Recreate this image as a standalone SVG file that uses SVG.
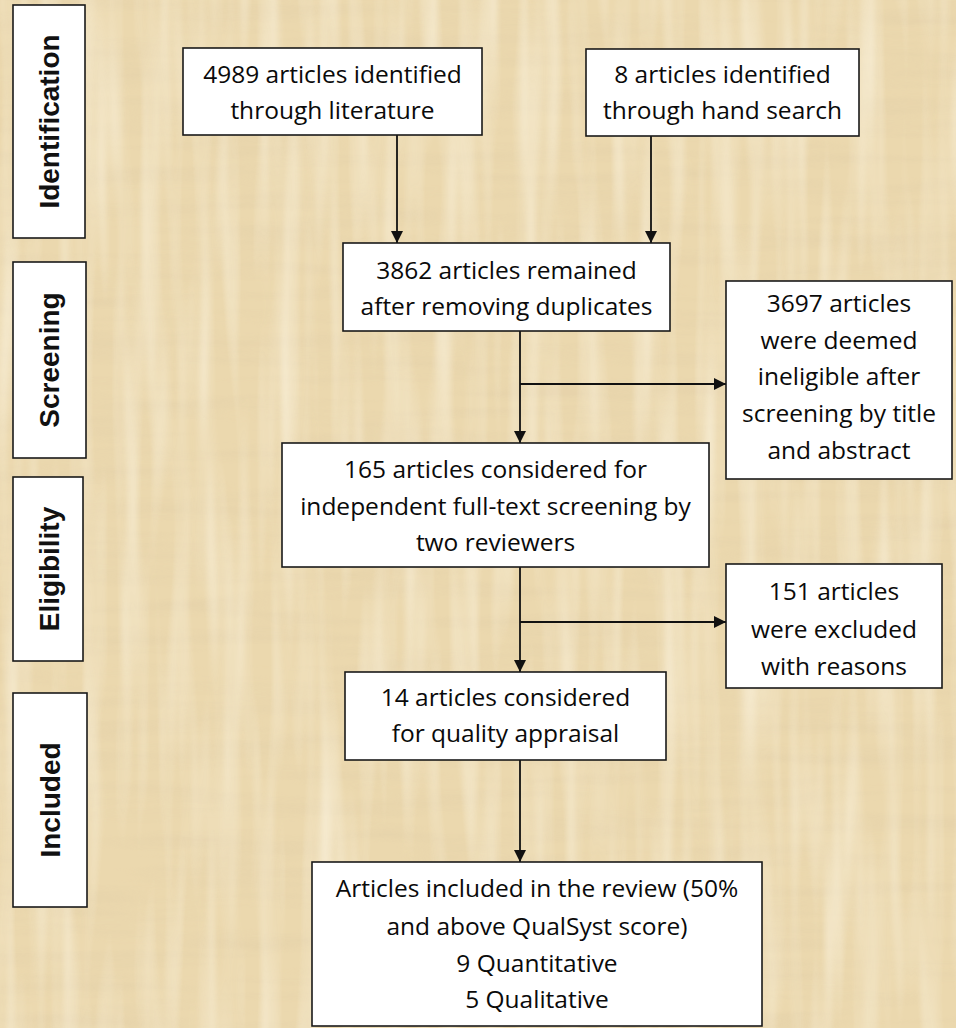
<svg xmlns="http://www.w3.org/2000/svg" width="956" height="1028" viewBox="0 0 956 1028">
<style>
.box{fill:#ffffff;stroke:#1a1a1a;stroke-width:1.6}
.t{font-family:"Open Sans","Liberation Sans",sans-serif;font-size:24.5px;fill:#0a0a0a;text-anchor:middle}
.s{font-family:"Liberation Sans","Open Sans",sans-serif;font-size:28px;font-weight:bold;fill:#111;text-anchor:middle}
.c{fill:none;stroke:#111;stroke-width:1.8}
</style>
<defs>
<marker id="ah" viewBox="0 0 12 12" refX="12" refY="6" markerWidth="12" markerHeight="12" markerUnits="userSpaceOnUse" orient="auto">
<path d="M0,0 L12,6 L0,12 Z" fill="#111"/>
</marker>
<filter id="tex" x="0" y="0" width="100%" height="100%">
<feTurbulence type="fractalNoise" baseFrequency="0.006 0.06" numOctaves="3" seed="7" result="n"/>
<feColorMatrix in="n" type="matrix" values="0 0 0 0 0.78  0 0 0 0 0.64  0 0 0 0 0.40  0 0 0 2.2 -0.85"/>
</filter>
<filter id="tex2" x="0" y="0" width="100%" height="100%">
<feTurbulence type="fractalNoise" baseFrequency="0.05 0.004" numOctaves="2" seed="3" result="n"/>
<feColorMatrix in="n" type="matrix" values="0 0 0 0 0.97  0 0 0 0 0.91  0 0 0 0 0.76  0 0 0 2.0 -0.8"/>
</filter>
</defs>
<rect x="0" y="0" width="956" height="1028" fill="#ebd8ae"/>
<rect x="0" y="0" width="956" height="1028" filter="url(#tex)" opacity="0.6"/>
<rect x="0" y="0" width="956" height="1028" filter="url(#tex2)" opacity="0.6"/>

<g id="side-identification"><rect class="box" x="13" y="5" width="72" height="233"/><text class="s" transform="translate(59,121.5) rotate(-90)">Identification</text></g>
<g id="side-screening"><rect class="box" x="13" y="262" width="73" height="196"/><text class="s" transform="translate(59,360) rotate(-90)">Screening</text></g>
<g id="side-eligibility"><rect class="box" x="13" y="477" width="70" height="184"/><text class="s" transform="translate(59,569) rotate(-90)">Eligibility</text></g>
<g id="side-included"><rect class="box" x="13" y="693" width="74" height="214"/><text class="s" transform="translate(60,800) rotate(-90)">Included</text></g>

<g id="connectors">
<line class="c" x1="397" y1="135" x2="397" y2="243" marker-end="url(#ah)"/>
<line class="c" x1="651" y1="136" x2="651" y2="243" marker-end="url(#ah)"/>
<line class="c" x1="520" y1="331" x2="520" y2="443" marker-end="url(#ah)"/>
<line class="c" x1="520" y1="384" x2="726" y2="384" marker-end="url(#ah)"/>
<line class="c" x1="520" y1="567" x2="520" y2="672" marker-end="url(#ah)"/>
<line class="c" x1="520" y1="622" x2="726" y2="622" marker-end="url(#ah)"/>
<line class="c" x1="520" y1="760" x2="520" y2="862" marker-end="url(#ah)"/>
</g>

<g id="n-literature"><rect class="box" x="183" y="48" width="299" height="87"/>
<text class="t" x="332.5" y="83">4989 articles identified</text><text class="t" x="332.5" y="119">through literature</text></g>
<g id="n-hand"><rect class="box" x="586" y="49" width="273" height="87"/>
<text class="t" x="722.5" y="83">8 articles identified</text><text class="t" x="722.5" y="119">through hand search</text></g>
<g id="n-duplicates"><rect class="box" x="343" y="243" width="327" height="88"/>
<text class="t" x="506.5" y="279">3862 articles remained</text><text class="t" x="506.5" y="315">after removing duplicates</text></g>
<g id="n-ineligible"><rect class="box" x="726" y="281" width="226" height="198"/>
<text class="t" x="839" y="312">3697 articles</text><text class="t" x="839" y="349">were deemed</text><text class="t" x="839" y="385">ineligible after</text><text class="t" x="839" y="422">screening by title</text><text class="t" x="839" y="459">and abstract</text></g>
<g id="n-fulltext"><rect class="box" x="282" y="443" width="427" height="124"/>
<text class="t" x="495.5" y="478">165 articles considered for</text><text class="t" x="495.5" y="515">independent full-text screening by</text><text class="t" x="495.5" y="551">two reviewers</text></g>
<g id="n-excluded"><rect class="box" x="726" y="564" width="216" height="124"/>
<text class="t" x="834" y="600">151 articles</text><text class="t" x="834" y="638">were excluded</text><text class="t" x="834" y="675">with reasons</text></g>
<g id="n-quality"><rect class="box" x="345" y="672" width="321" height="88"/>
<text class="t" x="505.5" y="706">14 articles considered</text><text class="t" x="505.5" y="742">for quality appraisal</text></g>
<g id="n-included"><rect class="box" x="312" y="862" width="450" height="164"/>
<text class="t" x="537" y="897">Articles included in the review (50%</text><text class="t" x="537" y="935">and above QualSyst score)</text><text class="t" x="537" y="972">9 Quantitative</text><text class="t" x="537" y="1008">5 Qualitative</text></g>
</svg>
